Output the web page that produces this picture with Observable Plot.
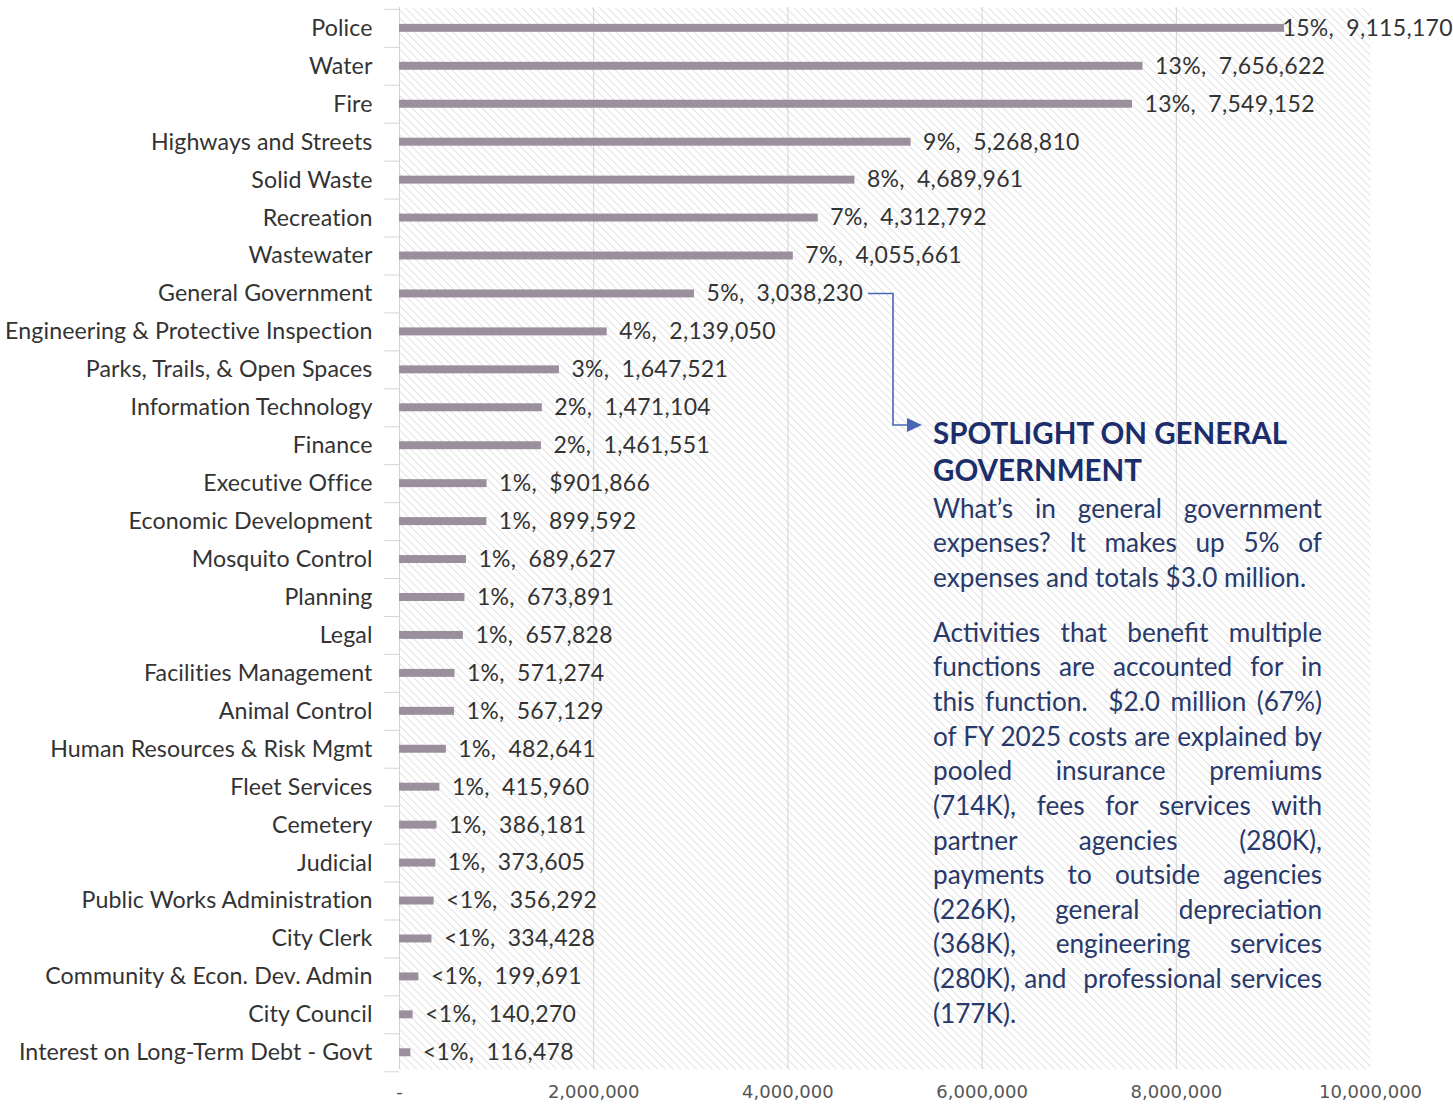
<!DOCTYPE html>
<html>
<head>
<meta charset="utf-8">
<script src="https://cdn.jsdelivr.net/npm/d3@7"></script>
<script src="https://cdn.jsdelivr.net/npm/@observablehq/plot@0.6"></script>
<style>
  html, body { margin: 0; padding: 0; background: #fff; }
  #wrap { position: relative; width: 1453px; height: 1104px; }
  #note { position: absolute; left: 933px; top: 414px; width: 389px; font-family: Lato, sans-serif; color: #28396a; }
  #note .title { font-weight: bold; font-size: 29.5px; line-height: 37.3px; color: #1b2d6b; }
  #note .ln { font-size: 26.2px; line-height: 34.65px; text-align: justify; text-align-last: justify; white-space: nowrap; }
  #note .ln.last { text-align-last: left; }
  #note .first { margin-top: 2px; }
  #note .gap { height: 20px; }
  #conn { position: absolute; left: 0; top: 0; pointer-events: none; }
  .vlabel text { letter-spacing: 0.3px; word-spacing: 6px; }
  .catlabel text { letter-spacing: 0.1px; }
</style>
</head>
<body>
<div id="wrap"></div>
<script>
const categories = [
  "Police", "Water", "Fire", "Highways and Streets", "Solid Waste", "Recreation",
  "Wastewater", "General Government", "Engineering & Protective Inspection",
  "Parks, Trails, & Open Spaces", "Information Technology", "Finance",
  "Executive Office", "Economic Development", "Mosquito Control", "Planning",
  "Legal", "Facilities Management", "Animal Control", "Human Resources & Risk Mgmt",
  "Fleet Services", "Cemetery", "Judicial", "Public Works Administration",
  "City Clerk", "Community & Econ. Dev. Admin", "City Council",
  "Interest on Long-Term Debt - Govt"
];
const expenses = [
  9115170, 7656622, 7549152, 5268810, 4689961, 4312792, 4055661, 3038230,
  2139050, 1647521, 1471104, 1461551, 901866, 899592, 689627, 673891,
  657828, 571274, 567129, 482641, 415960, 386181, 373605, 356292,
  334428, 199691, 140270, 116478
];
const valueLabels = [
  "15%, 9,115,170", "13%, 7,656,622", "13%, 7,549,152", "9%, 5,268,810",
  "8%, 4,689,961", "7%, 4,312,792", "7%, 4,055,661", "5%, 3,038,230",
  "4%, 2,139,050", "3%, 1,647,521", "2%, 1,471,104", "2%, 1,461,551",
  "1%, $901,866", "1%, 899,592", "1%, 689,627", "1%, 673,891",
  "1%, 657,828", "1%, 571,274", "1%, 567,129", "1%, 482,641",
  "1%, 415,960", "1%, 386,181", "1%, 373,605", "<1%, 356,292",
  "<1%, 334,428", "<1%, 199,691", "<1%, 140,270", "<1%, 116,478"
];
const xTicks = [0, 2000000, 4000000, 6000000, 8000000, 10000000];
const gridTicks = [2000000, 4000000, 6000000, 8000000];
const noteTitle = ["SPOTLIGHT ON GENERAL", "GOVERNMENT"];
const notePara1 = [
  "What’s in general government",
  "expenses? It makes up 5% of",
  "expenses and totals $3.0 million."
];
const notePara2 = [
  "Activities that benefit multiple",
  "functions are accounted for in",
  "this function.  $2.0 million (67%)",
  "of FY 2025 costs are explained by",
  "pooled insurance premiums",
  "(714K), fees for services with",
  "partner agencies (280K),",
  "payments to outside agencies",
  "(226K), general depreciation",
  "(368K), engineering services",
  "(280K), and  professional services",
  "(177K)."
];

const data = categories.map((c, i) => ({category: c, value: expenses[i], label: valueLabels[i]}));
const fmt = d3.format(",");
const ns = "http://www.w3.org/2000/svg";

function build(step) {
  const lastCat = categories[categories.length - 1];
  return Plot.plot({
    width: 1453,
    height: 1104,
    marginLeft: 399,
    marginRight: 83,
    marginTop: 7,
    marginBottom: 35,
    style: {fontFamily: "Lato, sans-serif", background: "transparent", overflow: "visible"},
    x: {domain: [0, 10000000]},
    y: {domain: categories, paddingInner: 0.79, paddingOuter: 0.39, align: 0.57, round: false},
    marks: [
      Plot.frame({fill: "url(#hatch)", stroke: "none"}),
      Plot.gridX(gridTicks, {stroke: "#d4d4d4", strokeOpacity: 1, strokeWidth: 1}),
      Plot.ruleX([0], {stroke: "#d4d4d4", strokeWidth: 1}),
      Plot.ruleY(categories, {y: d => d, x1: -150000, x2: 0, stroke: "#d4d4d4", dy: -step / 2}),
      Plot.ruleY([lastCat], {y: d => d, x1: -150000, x2: 0, stroke: "#d4d4d4", dy: step / 2}),
      Plot.barX(data, {y: "category", x: "value", fill: "#9b8f9d"}),
      Plot.text(data.slice(0, 1), {y: "category", x: "value", text: "label", textAnchor: "start", dx: -2, fontSize: 23, fill: "#333", className: "vlabel"}),
      Plot.text(data.slice(1), {y: "category", x: "value", text: "label", textAnchor: "start", dx: 12, fontSize: 23, fill: "#333", className: "vlabel"}),
      Plot.axisY({tickSize: 0, tickPadding: 27, fontSize: 23.2, fill: "#333", label: null, className: "catlabel"}),
      Plot.axisX(xTicks, {tickSize: 0, tickPadding: 16, fontSize: 18, fontFamily: "DejaVu Sans, sans-serif", fill: "#555", label: null,
        tickFormat: d => d === 0 ? "-" : fmt(d)})
    ]
  });
}

const probe = build(0);
const step = probe.scale("y").step;
const chart = build(step);

// hatch pattern definition
const defs = document.createElementNS(ns, "defs");
defs.innerHTML = `<pattern id="hatch" patternUnits="userSpaceOnUse" width="5.5" height="5.5" patternTransform="rotate(-45)">
  <rect width="5.5" height="5.5" fill="#ffffff"/>
  <line x1="0" y1="0" x2="0" y2="5.5" stroke="#d9d9d9" stroke-width="1.5"/>
</pattern>`;
chart.insertBefore(defs, chart.firstChild);

const wrap = document.getElementById("wrap");
wrap.appendChild(chart);

// connector arrow from the General Government label to the note
const ys = chart.scale("y");
const yGG = ys.apply("General Government") + ys.bandwidth / 2;
const conn = document.createElementNS(ns, "svg");
conn.setAttribute("id", "conn");
conn.setAttribute("width", 1453);
conn.setAttribute("height", 1104);
conn.innerHTML = `<path d="M868,${yGG} H893 V425 H910" fill="none" stroke="#4a67b5" stroke-width="1.6"/>
<path d="M907,418 L922,425 L907,432 Z" fill="#4a67b5"/>`;
wrap.appendChild(conn);

// note
const note = document.createElement("div");
note.id = "note";
note.innerHTML =
  noteTitle.map(t => `<div class="title">${t}</div>`).join("") +
  notePara1.map((t, i) => `<div class="ln${i === 0 ? " first" : ""}${i === notePara1.length - 1 ? " last" : ""}">${t}</div>`).join("") +
  `<div class="gap"></div>` +
  notePara2.map((t, i) => `<div class="ln${i === notePara2.length - 1 ? " last" : ""}">${t.replace(/  /g, " \u00a0")}</div>`).join("");
wrap.appendChild(note);
</script>
</body>
</html>
